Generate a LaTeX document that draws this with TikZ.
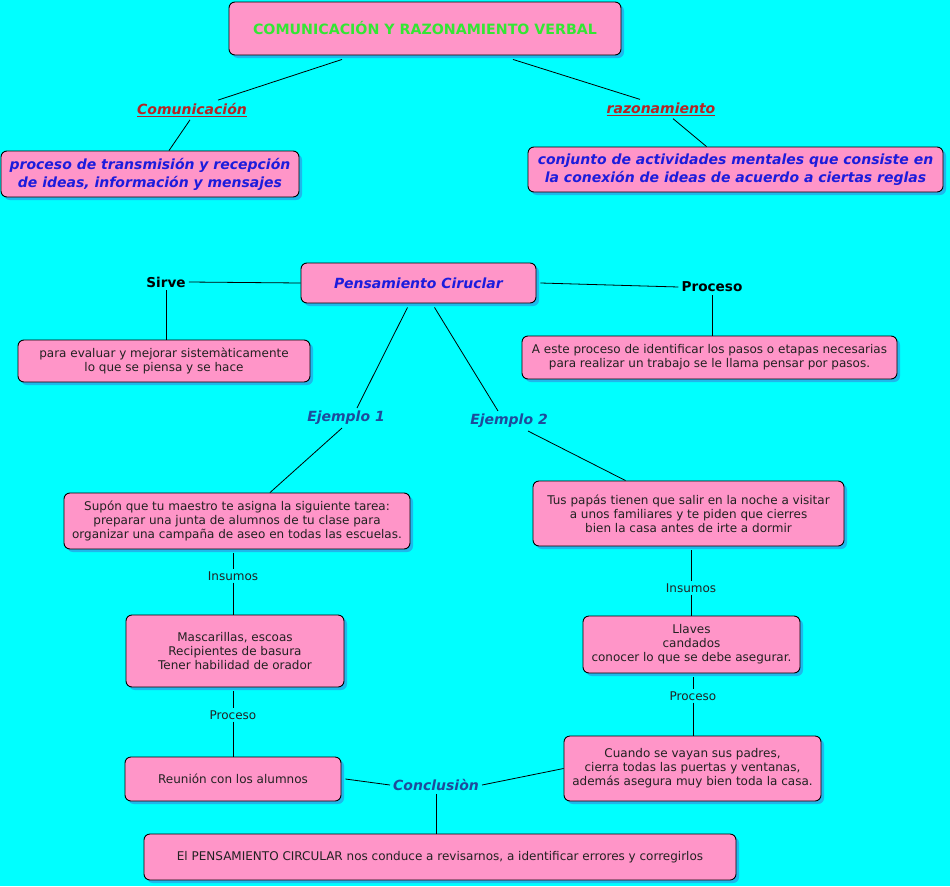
\documentclass[tikz,border=0pt]{standalone}
\usepackage{fontspec}
\setmainfont{DejaVu Sans}
\usetikzlibrary{shadows}
\definecolor{bgc}{HTML}{00FFFF}
\definecolor{boxc}{HTML}{FF95C8}
\definecolor{shc}{HTML}{1EB8EC}
\definecolor{titc}{HTML}{33E633}
\definecolor{redc}{HTML}{B42424}
\definecolor{bluec}{HTML}{1C1CDC}
\definecolor{dbluec}{HTML}{1E4B9B}
\definecolor{txtc}{HTML}{222222}
\tikzset{
  box/.style={draw=black, line width=0.9pt, fill=boxc, rounded corners=6pt, align=center,
    text=txtc, inner sep=2pt, drop shadow={shadow xshift=3pt, shadow yshift=-3pt, fill=shc, opacity=1},
    font=\fontsize{12}{14}\selectfont},
  bigbox/.style={box, text=bluec, font=\fontsize{14}{18}\selectfont\bfseries\itshape},
  lbl/.style={inner sep=2pt, text=txtc, font=\fontsize{12}{14}\selectfont},
  blbl/.style={inner sep=3pt, text=black, font=\fontsize{13.6}{15}\selectfont\bfseries},
  elbl/.style={inner sep=3pt, text=dbluec, font=\fontsize{14}{16}\selectfont\bfseries\itshape},
  rlbl/.style={inner sep=3pt, text=redc, font=\fontsize{14}{16}\selectfont\bfseries\itshape},
  conn/.style={draw=black, line width=0.8pt}
}
\begin{document}
\begin{tikzpicture}[x=1pt,y=-1pt]
\path[use as bounding box, fill=bgc] (0,0) rectangle (950,886);
% nodes
\node[box, minimum width=392pt, minimum height=53pt, text=titc, font=\fontsize{14.2}{16}\selectfont\bfseries] (title) at (425,28.5) {COMUNICACIÓN Y RAZONAMIENTO VERBAL};
\node[rlbl] (com) at (192,110) {\underline{Comunicación}};
\node[rlbl] (raz) at (661,109) {\underline{razonamiento}};
\node[bigbox, minimum width=298pt, minimum height=46pt] (proc) at (150,174) {proceso de transmisión y recepción\\ de ideas, información y mensajes};
\node[bigbox, minimum width=415pt, minimum height=45pt] (conj) at (735.5,169.5) {conjunto de actividades mentales que consiste en\\ la conexión de ideas de acuerdo a ciertas reglas};
\node[box, minimum width=235pt, minimum height=40pt, text=bluec, font=\fontsize{14}{16}\selectfont\bfseries\itshape] (pens) at (418.5,283) {Pensamiento Ciruclar};
\node[blbl] (sirve) at (166,282) {Sirve};
\node[blbl] (procT) at (712,287) {Proceso};
\node[box, minimum width=292pt, minimum height=42pt] (para) at (164,361) {para evaluar y mejorar sistemàticamente\\ lo que se piensa y se hace};
\node[box, minimum width=375pt, minimum height=43pt] (aeste) at (709.5,357.5) {A este proceso de identificar los pasos o etapas necesarias\\ para realizar un trabajo se le llama pensar por pasos.};
\node[elbl] (ej1) at (346,418) {Ejemplo 1};
\node[elbl] (ej2) at (509,421) {Ejemplo 2};
\node[box, minimum width=346pt, minimum height=56pt] (supon) at (237,521) {Supón que tu maestro te asigna la siguiente tarea:\\ preparar una junta de alumnos de tu clase para\\ organizar una campaña de aseo en todas las escuelas.};
\node[box, minimum width=311pt, minimum height=65pt] (tus) at (688.5,513.5) {Tus papás tienen que salir en la noche a visitar\\ a unos familiares y te piden que cierres\\ bien la casa antes de irte a dormir};
\node[lbl] (ins1) at (233,576) {Insumos};
\node[box, minimum width=218pt, minimum height=72pt] (masc) at (235,651) {Mascarillas, escoas\\ Recipientes de basura\\ Tener habilidad de orador};
\node[lbl] (pro1) at (233,715) {Proceso};
\node[box, minimum width=216pt, minimum height=44pt] (reun) at (233,779) {Reunión con los alumnos};
\node[lbl] (ins2) at (691,588) {Insumos};
\node[box, minimum width=217pt, minimum height=57pt] (llaves) at (691.5,644.5) {Llaves\\ candados\\ conocer lo que se debe asegurar.};
\node[lbl] (pro2) at (693,696) {Proceso};
\node[box, minimum width=257pt, minimum height=65pt] (cuando) at (692.5,768.5) {Cuando se vayan sus padres,\\ cierra todas las puertas y ventanas,\\ además asegura muy bien toda la casa.};
\node[elbl] (concl) at (436,785) {Conclusiòn};
\node[box, minimum width=592pt, minimum height=46pt] (elpens) at (440,857) {El PENSAMIENTO CIRCULAR nos conduce a revisarnos, a identificar errores y corregirlos};
% connectors
\draw[conn] ([xshift=-83pt,yshift=-4pt]title.south) -- ([xshift=26pt]com.north);
\draw[conn] ([xshift=-2pt]com.south) -- ([xshift=19pt]proc.north);
\draw[conn] ([xshift=88pt,yshift=-4pt]title.south) -- ([xshift=-21pt]raz.north);
\draw[conn] ([xshift=12pt]raz.south) -- ([xshift=-29pt]conj.north);
\draw[conn] (sirve.east) -- (pens.west);
\draw[conn] (sirve.south) -- (sirve.south |- para.north);
\draw[conn] ([xshift=4pt]pens.east) -- (procT.west);
\draw[conn] (procT.south) -- (procT.south |- aeste.north);
\draw[conn] ([xshift=-11pt,yshift=-4pt]pens.south) -- ([xshift=11pt]ej1.north);
\draw[conn] ([xshift=-4pt]ej1.south) -- ([xshift=33pt]supon.north);
\draw[conn] ([xshift=16pt,yshift=-4pt]pens.south) -- ([xshift=-11pt]ej2.north);
\draw[conn] ([xshift=19pt]ej2.south) -- ([xshift=-63pt]tus.north);
\draw[conn] ([yshift=-4pt]supon.south -| ins1) -- (ins1.north);
\draw[conn] (ins1.south) -- (ins1.south |- masc.north);
\draw[conn] ([yshift=-4pt]masc.south -| pro1) -- (pro1.north);
\draw[conn] (pro1.south) -- (pro1.south |- reun.north);
\draw[conn] ([yshift=-4pt]tus.south -| ins2) -- (ins2.north);
\draw[conn] (ins2.south) -- (ins2.south |- llaves.north);
\draw[conn] ([yshift=-4pt]llaves.south -| pro2) -- (pro2.north);
\draw[conn] (pro2.south) -- (pro2.south |- cuando.north);
\draw[conn] ([xshift=4pt]reun.east) -- (concl.west);
\draw[conn] (concl.east) -- (cuando.west);
\draw[conn] (concl.south) -- (concl.south |- elpens.north);
\end{tikzpicture}
\end{document}
